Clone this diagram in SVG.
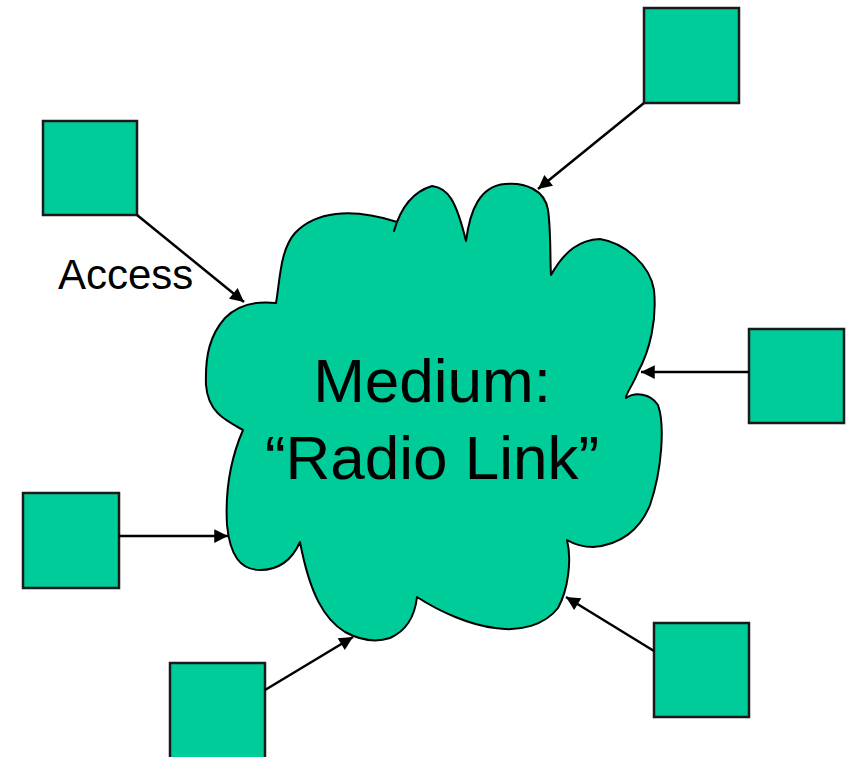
<svg xmlns="http://www.w3.org/2000/svg" width="849" height="757" viewBox="0 0 849 757">
<style>
.node{fill:#00CC99;stroke:#1a1a1a;stroke-width:2.5}
.cloud{fill:#00CC99;stroke:#000;stroke-width:2;stroke-linejoin:round}
.conn{stroke:#000;stroke-width:2.5;fill:none;marker-end:url(#ah)}
text{font-family:"Liberation Sans",Arial,sans-serif;fill:#000}
</style>
<defs>
<marker id="ah" viewBox="0 0 10 10" refX="10" refY="5" markerWidth="6.5" markerHeight="5.5" markerUnits="strokeWidth" orient="auto">
<path d="M0,0 L10,5 L0,10 z" fill="#000"/>
</marker>
</defs>
<g id="cloud">
<path class="cloud" d="M276,303 C280,280 280,250 295,233 C315,212 350,207 397,222 L394,231 C400,210 412,192 432,186 C448,188 456,200 466,241 C470,210 480,186 505,184 C525,182 545,190 548,210 C551,230 550,260 551,275 C565,250 580,240 600,239 C625,243 650,265 654,290 C657,320 650,350 638,372 C633,385 625,395 626,398 C635,392 650,393 658,405 C665,425 662,470 650,505 C640,530 620,545 593,547 C580,547 572,543 567,540 C572,560 568,590 558,608 C545,625 520,632 495,628 C470,625 440,612 417,597 C415,615 408,630 390,638 C375,643 360,640 345,632 C325,620 310,595 300,542 C292,560 280,570 260,570 C240,570 230,555 227,525 C225,490 230,460 243,430 C225,420 208,412 206,385 C205,355 210,335 225,318 C235,308 250,300 276,303 Z"/>
<text x="432" y="402" font-size="62" text-anchor="middle">Medium:</text>
<text x="432" y="479" font-size="62" text-anchor="middle">“Radio Link”</text>
</g>
<g id="n-topleft"><rect class="node" x="43" y="121" width="94" height="94"/></g>
<g id="n-topright"><rect class="node" x="644" y="8" width="95" height="95"/></g>
<g id="n-right"><rect class="node" x="749" y="329" width="95" height="94"/></g>
<g id="n-left"><rect class="node" x="23" y="493" width="96" height="95"/></g>
<g id="n-bottomleft"><rect class="node" x="170" y="663" width="95" height="100"/></g>
<g id="n-bottomright"><rect class="node" x="654" y="623" width="95" height="94"/></g>
<g id="connectors">
<line class="conn" x1="137" y1="215" x2="244" y2="302"/>
<line class="conn" x1="644" y1="103" x2="538" y2="189"/>
<line class="conn" x1="749" y1="372" x2="641" y2="372"/>
<line class="conn" x1="119" y1="536" x2="228" y2="536"/>
<line class="conn" x1="265" y1="690" x2="353" y2="637"/>
<line class="conn" x1="654" y1="651" x2="566" y2="597"/>
<text x="58" y="289" font-size="42">Access</text>
</g>
</svg>
